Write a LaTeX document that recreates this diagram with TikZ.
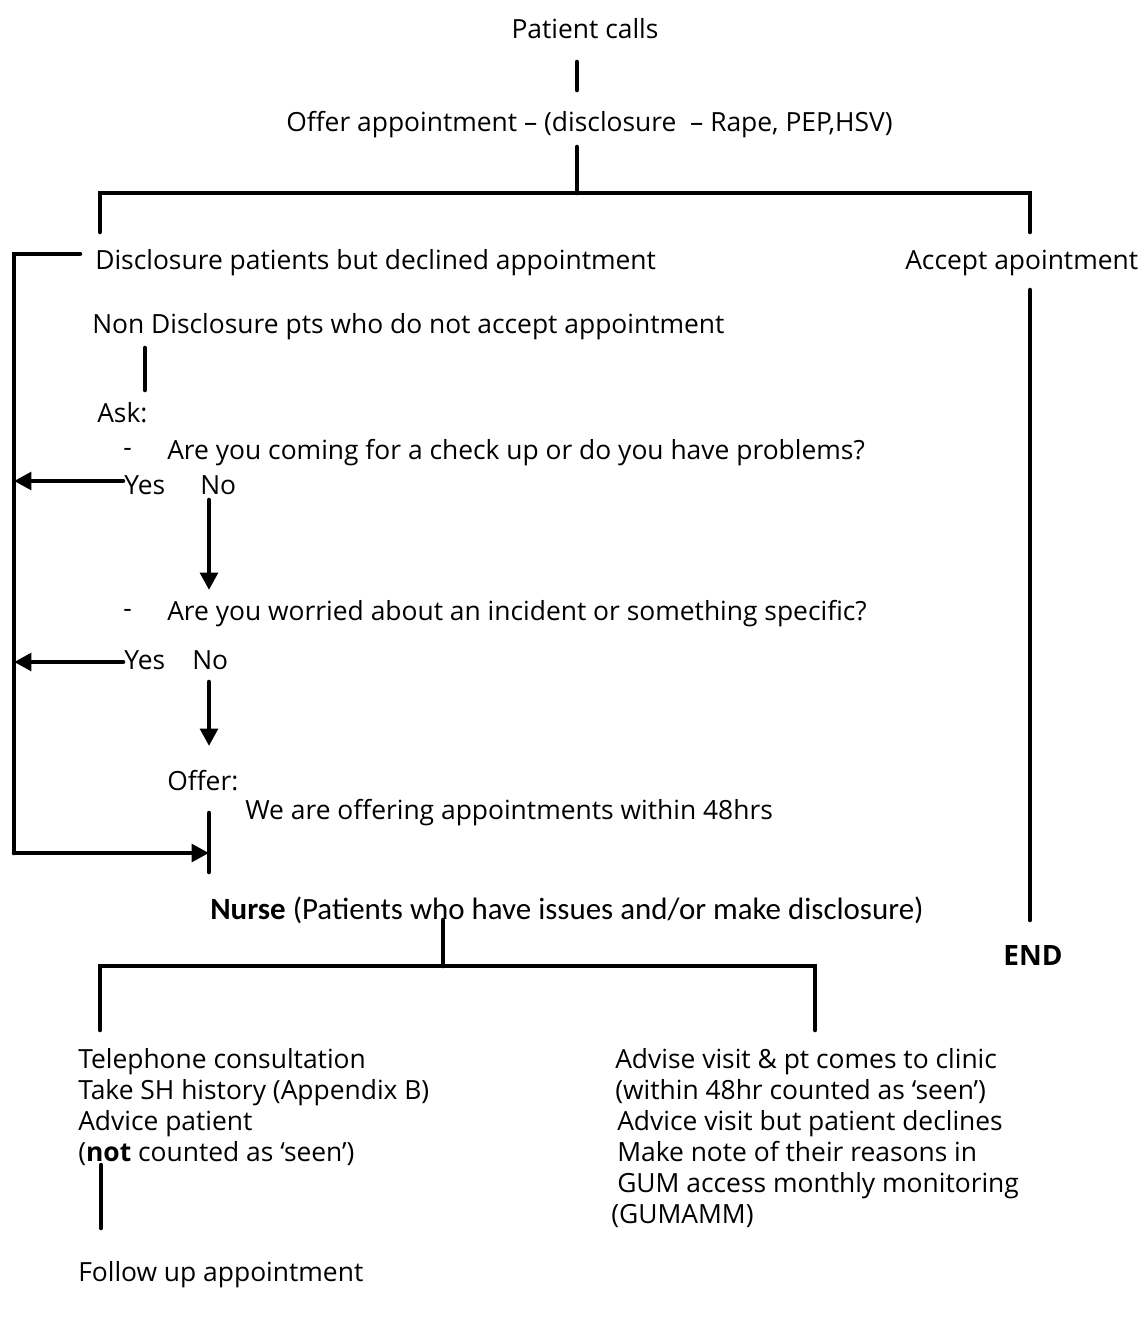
\documentclass[tikz,border=0pt]{standalone}
\usepackage{fontspec}
\setmainfont{Open Sans}
\newfontfamily\nursefont{Carlito}
\usetikzlibrary{arrows.meta}
\begin{document}
\begin{tikzpicture}[x=0.75pt,y=-0.75pt,
  txt/.style={anchor=west,inner sep=0pt,yshift=-2.2pt,font=\fontsize{19.8}{23.25}\selectfont},
  ctr/.style={inner sep=0pt,yshift=-1pt,font=\fontsize{19.8}{23.25}\selectfont},
  blk/.style={anchor=north west,inner sep=0pt,align=left,yshift=-3.7pt,font=\fontsize{19.8}{23.25}\selectfont},
  conn/.style={line width=3.4pt,line cap=round},
  arr/.style={conn,-{Triangle[length=13pt,width=13pt]}}]
\useasboundingbox[fill=white] (0,0) rectangle (1146,1317);
% texts
\node[ctr] (pc) at (585,27) {Patient calls};
\node[txt] (offer) at (286,122) {Offer appointment – (disclosure\ \ – Rape, PEP,HSV)};
\node[txt] (disc) at (95,260) {Disclosure patients but declined appointment};
\node[txt] (acc) at (905,260) {Accept apointment};
\node[txt] (nondisc) at (92,324) {Non Disclosure pts who do not accept appointment};
\node[txt] (ask) at (97,410) {Ask:};
\node[txt] (d1) at (123,450) {-};
\node[txt] (q1) at (167,450) {Are you coming for a check up or do you have problems?};
\node[txt] (yes1) at (124,482) {Yes};
\node[txt] (no1) at (200,482) {No};
\node[txt] (d2) at (123,611) {-};
\node[txt] (q2) at (167,611) {Are you worried about an incident or something specific?};
\node[txt] (yes2) at (124,657) {Yes};
\node[txt] (no2) at (192,657) {No};
\node[txt] (offerl) at (167,778) {Offer:};
\node[txt] (within) at (245,810) {We are offering appointments within 48hrs};
\node[anchor=west,inner sep=0pt,yshift=-1.5pt,font=\nursefont\fontsize{23.2}{26}\selectfont] (nurse) at (210,908) {\textbf{Nurse} (Patients who have issues and/or make disclosure)};
\node[ctr,font=\fontsize{21}{24}\selectfont\bfseries] (end) at (1033,954) {END};
\node[blk] (tel) at (78,1043) {Telephone consultation\\Take SH history (Appendix B)\\Advice patient\\(\textbf{not} counted as ‘seen’)};
\node[txt] (follow) at (78,1272) {Follow up appointment};
\node[blk] (adv) at (615,1043) {Advise visit \& pt comes to clinic\\(within 48hr counted as ‘seen’)\\\hspace{1.5pt}Advice visit but patient declines\\\hspace{1.5pt}Make note of their reasons in\\\hspace{1.5pt}GUM access monthly monitoring\\\hspace{-3pt}(GUMAMM)};
% coordinates
\coordinate (a1) at (577,62); \coordinate (a2) at (577,90);
\coordinate (b1) at (577,147); \coordinate (b2) at (577,193);
\coordinate (bl) at (100,193); \coordinate (br) at (1030,193);
\coordinate (bld) at (100,232); \coordinate (brd) at (1030,232);
\coordinate (lb1) at (80,254); \coordinate (lb2) at (14,254); \coordinate (lb3) at (14,853);
\coordinate (bar1) at (209,813); \coordinate (bar2) at (209,872);
\coordinate (c1) at (145,348); \coordinate (c2) at (145,390);
\coordinate (y1) at (123,481); \coordinate (y1e) at (14,481);
\coordinate (n1) at (209,500); \coordinate (n1e) at (209,590);
\coordinate (y2) at (123,662); \coordinate (y2e) at (14,662);
\coordinate (n2) at (209,682); \coordinate (n2e) at (209,746);
\coordinate (r1) at (1030,290); \coordinate (r2) at (1030,920);
\coordinate (e1) at (443,920); \coordinate (e2) at (443,966);
\coordinate (fl) at (100,966); \coordinate (fr) at (815,966);
\coordinate (fld) at (100,1030); \coordinate (frd) at (815,1030);
\coordinate (g1) at (101,1165); \coordinate (g2) at (101,1228);
% connectors
\draw[conn] (a1) -- (a2);
\draw[conn] (b1) -- (b2);
\draw[conn] (bld) -- (bl) -- (br) -- (brd);
\draw[conn] (c1) -- (c2);
\draw[conn] (lb1) -- (lb2) -- (lb3);
\draw[arr] (lb3) -- (bar1 |- lb3);
\draw[conn] (bar1) -- (bar2);
\draw[arr] (y1) -- (y1e);
\draw[arr] (n1) -- (n1e);
\draw[arr] (y2) -- (y2e);
\draw[arr] (n2) -- (n2e);
\draw[conn] (r1) -- (r2);
\draw[conn] (e1) -- (e2);
\draw[conn] (fld) -- (fl) -- (fr) -- (frd);
\draw[conn] (g1) -- (g2);
\end{tikzpicture}
\end{document}
